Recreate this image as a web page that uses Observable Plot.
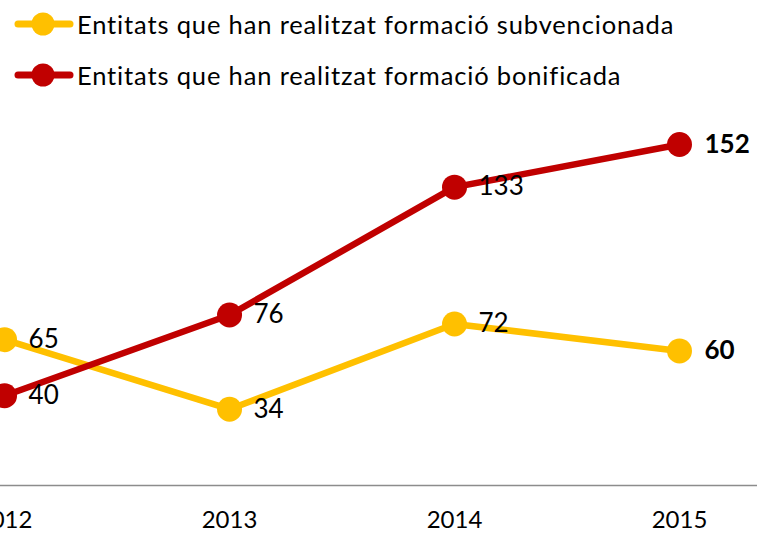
<!DOCTYPE html>
<html><head><meta charset="utf-8">
<script src="https://cdn.jsdelivr.net/npm/d3@7"></script>
<script src="https://cdn.jsdelivr.net/npm/@observablehq/plot@0.6"></script>
<style>
body{margin:0;background:#fff;}
#wrap{position:relative;width:757px;height:533px;overflow:hidden;font-family:Lato, "Open Sans", sans-serif;}
.leg{position:absolute;left:14px;height:30px;display:flex;align-items:center;font-size:25.5px;letter-spacing:0.85px;color:#000;white-space:nowrap;}
.leg svg{margin-right:3px;}
</style></head><body><div id="wrap"></div>
<script>
const years = [2012, 2013, 2014, 2015];
const subvencionada = [65, 34, 72, 60];
const bonificada = [40, 76, 133, 152];
const seriesNames = ["Entitats que han realitzat formació subvencionada", "Entitats que han realitzat formació bonificada"];
const seriesColors = ["#FFC000", "#C00000"];
const seriesValues = [subvencionada, bonificada];

const data = [];
seriesNames.forEach((s, si) => years.forEach((y, i) => data.push({series: s, year: y, value: seriesValues[si][i]})));
const last = years[years.length - 1];

const chart = Plot.plot({
  width: 757, height: 533,
  marginLeft: 0, marginRight: 0, marginTop: 0, marginBottom: 48,
  style: {fontFamily: "Lato, 'Open Sans', sans-serif", background: "#fff", overflow: "visible"},
  x: {domain: [2011.982, 2015.3467], label: null},
  y: {domain: [0, 216.2], axis: null},
  color: {domain: seriesNames, range: seriesColors},
  marks: [
    Plot.ruleY([0], {stroke: "#8c8c8c", strokeWidth: 1.5}),
    Plot.axisX({ticks: years, tickFormat: d => String(d), tickSize: 0, tickPadding: 25, label: null, fontSize: 24, fill: "#000"}),
    Plot.line(data, {x: "year", y: "value", z: "series", stroke: "series", strokeWidth: 6.5}),
    Plot.dot(data, {x: "year", y: "value", fill: "series", r: 12.5}),
    Plot.text(data.filter(d => d.year !== last), {x: "year", y: "value", text: d => String(d.value), dx: 24, textAnchor: "start", fontSize: 26, fill: "#000"}),
    Plot.text(data.filter(d => d.year === last), {x: "year", y: "value", text: d => String(d.value), dx: 25, textAnchor: "start", fontSize: 26, fontWeight: "bold", fill: "#000"})
  ]
});
const wrap = document.getElementById("wrap");
wrap.appendChild(chart);

const legendTops = [9, 60];
seriesNames.forEach((s, i) => {
  const div = document.createElement("div");
  div.className = "leg";
  div.style.top = legendTops[i] + "px";
  div.innerHTML = `<svg width="60" height="30"><line x1="4" x2="56" y1="15" y2="15" stroke="${seriesColors[i]}" stroke-width="7" stroke-linecap="round"/><circle cx="29" cy="15" r="11.5" fill="${seriesColors[i]}"/></svg><span>${s}</span>`;
  wrap.appendChild(div);
});
</script></body></html>
